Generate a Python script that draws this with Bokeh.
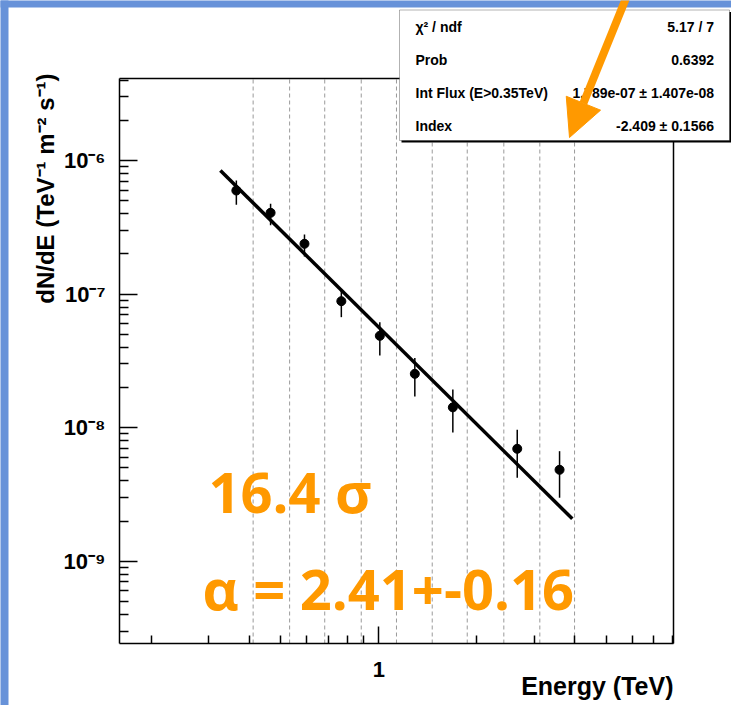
import math
from bokeh.plotting import figure
from bokeh.models import (Range1d, FixedTicker, Label, BoxAnnotation,
                          Arrow, NormalHead, ColumnDataSource)
from bokeh.embed import file_html
from bokeh.resources import INLINE

# ---------------- data ----------------
energy = [0.365, 0.465, 0.591, 0.767, 1.007, 1.290, 1.688, 2.662, 3.591]
flux = [5.96e-7, 4.06e-7, 2.38e-7, 8.85e-8, 4.87e-8, 2.53e-8, 1.42e-8, 6.95e-9, 4.84e-9]
flux_hi = [7.09e-7, 4.74e-7, 2.79e-7, 1.08e-7, 6.16e-8, 3.33e-8, 1.93e-8, 9.64e-9, 6.67e-9]
flux_lo = [4.66e-7, 3.27e-7, 1.91e-7, 6.72e-8, 3.47e-8, 1.71e-8, 9.2e-9, 4.22e-9, 2.99e-9]
fit_energy = [0.326, 3.93]
fit_flux = [8.42e-7, 2.08e-9]
bin_edges = [0.411, 0.532, 0.682, 0.883, 1.133, 1.459, 1.869, 2.421, 3.123, 3.993]
y_ticks = [1e-9, 1e-8, 1e-7, 1e-6]
y_tick_labels = ["10⁻⁹", "10⁻⁸", "10⁻⁷", "10⁻⁶"]
x_ticks = [1]
x_tick_labels = ["1"]
stats_names = ["χ² / ndf", "Prob", "Int Flux (E>0.35TeV)", "Index"]
stats_values = ["5.17 / 7", "0.6392", "1.789e-07 ± 1.407e-08", "-2.409 ± 0.1566"]
x_title = "Energy (TeV)"
y_title = "dN/dE (TeV⁻¹ m⁻² s⁻¹)"
note1 = "16.4 σ"
note2 = "α = 2.41+-0.16"

# ---------------- layout ----------------
W, H = 731, 705
# ROOT frame (pixel box and its data limits)
PL, PT, PR, PB = 119, 78, 673, 643
XF0, XF1 = 0.1597, 8.04
YF0, YF1 = 2.424e-10, 4.11e-6
ORANGE = "#ff9900"
BLUE = "#6792d9"
BASE_SHIFT = 0.43   # em offset of Bokeh's alphabetic baseline

lx0, lx1 = math.log10(XF0), math.log10(XF1)
ly0, ly1 = math.log10(YF0), math.log10(YF1)
kx = (lx1 - lx0) / (PR - PL)
ky = (ly1 - ly0) / (PB - PT)
LXA, LXB = lx0 - PL * kx, lx1 + (W - PR) * kx
LYB, LYA = ly0 - (H - PB) * ky, ly1 + PT * ky   # bottom, top of canvas


def cx(px):
    return 10 ** (LXA + px * kx)


def cy(py):
    return 10 ** (LYA - py * ky)


def cyb(baseline, size):
    return cy(baseline - BASE_SHIFT * size)


p = figure(width=W, height=H, x_axis_type="log", y_axis_type="log",
           x_range=Range1d(10 ** LXA, 10 ** LXB),
           y_range=Range1d(10 ** LYB, 10 ** LYA),
           output_backend="svg", toolbar_location=None,
           min_border=0)
p.background_fill_color = "white"
p.border_fill_color = "white"
p.outline_line_color = None
p.xgrid.visible = False
p.ygrid.visible = False

# blue page edges (left and top)
p.quad(left=[cx(-20), cx(-20)], right=[cx(8), cx(W + 20)],
       top=[cy(-20), cy(-20)], bottom=[cy(H + 20), cy(7)],
       fill_color=BLUE, line_color=None, level="underlay")

# axes, drawn at the ROOT frame position
xminor = [m * 10 ** e for e in (-1, 0) for m in range(2, 10)]
xminor = [v for v in xminor if XF0 <= v <= XF1]
yminor = [m * 10 ** e for e in range(-10, -5) for m in range(2, 10)]
yminor = [v for v in yminor if YF0 <= v <= YF1]
xa = p.xaxis[0]
xa.ticker = FixedTicker(ticks=x_ticks, minor_ticks=xminor)
xa.major_label_overrides = dict(zip(x_ticks, x_tick_labels))
xa.fixed_location = YF0
xa.bounds = (XF0, XF1)
ya = p.yaxis[0]
ya.ticker = FixedTicker(ticks=y_ticks, minor_ticks=yminor)
ya.major_label_overrides = dict(zip(y_ticks, y_tick_labels))
ya.fixed_location = XF0
ya.bounds = (YF0, YF1)
for ax in (xa, ya):
    ax.axis_line_width = 1.5
    ax.axis_line_color = "black"
    ax.major_tick_out = 0
    ax.minor_tick_out = 0
    ax.major_tick_line_width = 1.5
    ax.minor_tick_line_width = 1.5
    ax.major_label_text_font = "Liberation Sans"
    ax.major_label_text_font_style = "bold"
    ax.major_label_text_font_size = "22px"
    ax.major_label_text_color = "black"
xa.major_tick_in = 17
xa.minor_tick_in = 8
xa.major_label_standoff = 18
ya.major_tick_in = 18
ya.minor_tick_in = 9
ya.major_label_standoff = 14

# bin-edge dashed lines
p.segment(x0=bin_edges, x1=bin_edges, y0=[YF0] * len(bin_edges),
          y1=[YF1] * len(bin_edges), line_color="#9a9a9a",
          line_dash="4 3", line_width=1)

# top and right frame edges
p.segment(x0=[XF0, XF1], y0=[YF1, YF0], x1=[XF1, XF1], y1=[YF1, YF1],
          line_color="black", line_width=1.5)

# fit line
p.line(fit_energy, fit_flux, line_color="black", line_width=3.5)

# data points with error bars
src = ColumnDataSource(dict(e=energy, f=flux, lo=flux_lo, hi=flux_hi))
p.segment(x0="e", x1="e", y0="lo", y1="hi", source=src,
          line_color="black", line_width=1.5)
p.scatter(x="e", y="f", source=src, size=9, fill_color="black",
          line_color="black")

# axis titles (ROOT style, aligned to axis end)
p.add_layout(Label(x=cx(673), y=cyb(696, 25), text=x_title, text_align="right",
                   text_baseline="alphabetic", text_font="Liberation Sans",
                   text_font_style="bold", text_font_size="25px",
                   text_color="black"))
p.add_layout(Label(x=cx(45), y=cy(73), text=y_title, angle=math.pi / 2,
                   text_align="right", text_baseline="middle",
                   text_font="Liberation Sans", text_font_style="bold",
                   text_font_size="24px", text_color="black"))

# orange notes
p.add_layout(Label(x=cx(208), y=cyb(515, 56), text=note1, text_align="left",
                   text_baseline="alphabetic", text_font="Open Sans",
                   text_font_style="bold", text_font_size="56px",
                   text_color=ORANGE))
p.add_layout(Label(x=cx(202), y=cyb(612, 56), text=note2, text_align="left",
                   text_baseline="alphabetic", text_font="Open Sans",
                   text_font_style="bold", text_font_size="56px",
                   text_color=ORANGE))

# stats box (ROOT style, with shadow)
p.add_layout(BoxAnnotation(left=cx(401), right=cx(731), top=cy(11.5),
                           bottom=cy(142), fill_color="black", fill_alpha=1,
                           line_color=None, level="overlay"))
p.add_layout(BoxAnnotation(left=cx(399), right=cx(729), top=cy(9.5),
                           bottom=cy(140), fill_color="white", fill_alpha=1,
                           line_color="black", line_width=1, level="overlay"))
base = [32.3, 65.7, 99.0, 131.7]
for name, val, b in zip(stats_names, stats_values, base):
    p.add_layout(Label(x=cx(415), y=cyb(b, 14), text=name, text_align="left",
                       text_baseline="alphabetic", text_font="Liberation Sans",
                       text_font_style="bold", text_font_size="14px",
                       text_color="black", level="overlay"))
    p.add_layout(Label(x=cx(713.5), y=cyb(b, 14), text=val, text_align="right",
                       text_baseline="alphabetic", text_font="Liberation Sans",
                       text_font_style="bold", text_font_size="14px",
                       text_color="black", level="overlay"))

# orange arrow
p.add_layout(Arrow(end=NormalHead(size=37, fill_color=ORANGE,
                                  line_color=ORANGE, line_width=1),
                   x_start=cx(627), y_start=cy(-6), x_end=cx(569), y_end=cy(137),
                   line_color=ORANGE, line_width=8, level="overlay"))

open("out.html", "w").write(file_html(p, INLINE))
